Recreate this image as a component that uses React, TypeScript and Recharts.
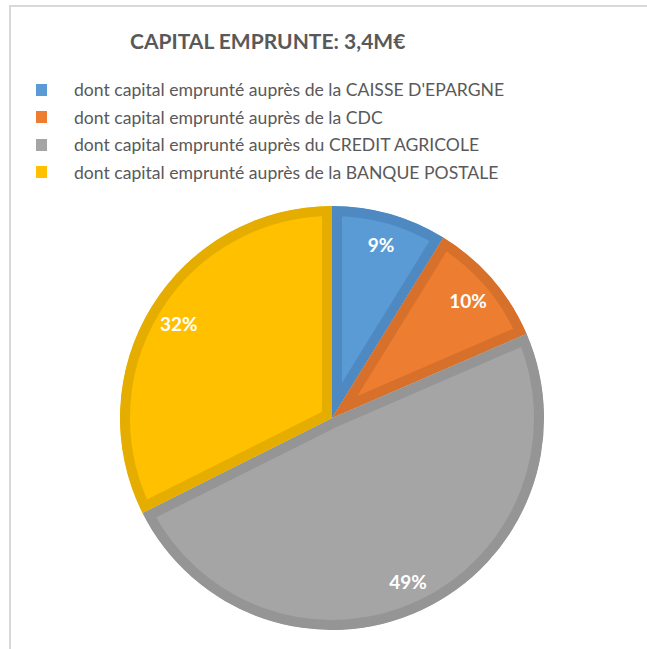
import { PieChart, Pie, Sector, Legend } from 'recharts'

const banks = [
  "dont capital emprunté auprès de la CAISSE D'EPARGNE",
  'dont capital emprunté auprès de la CDC',
  'dont capital emprunté auprès du CREDIT AGRICOLE',
  'dont capital emprunté auprès de la BANQUE POSTALE',
]
const shares = [8.8, 9.7, 49.1, 32.4]
const fills = ['#5B9BD5', '#ED7D31', '#A5A5A5', '#FFC000']
const borders = ['#4E8AC1', '#D6702B', '#959595', '#E5AD00']

const data = banks.map((name, i) => ({
  name,
  value: shares[i],
  fill: fills[i],
  border: borders[i],
}))

const RADIAN = Math.PI / 180
const FONT = 'Lato, "Open Sans", sans-serif'

function SliceShape(props: any) {
  const border = props.payload?.border ?? props.border
  const id = 'clip-' + (props.payload?.name ?? props.name ?? '').replace(/[^a-z]/gi, '')
  return (
    <g>
      <defs>
        <clipPath id={id}>
          <Sector {...props} stroke="none" />
        </clipPath>
      </defs>
      <Sector {...props} stroke={border} strokeWidth={20} clipPath={`url(#${id})`} />
    </g>
  )
}

function renderLabel({ cx, cy, midAngle, percent }: any) {
  const r = 180
  const x = cx + r * Math.cos(-midAngle * RADIAN)
  const y = cy + r * Math.sin(-midAngle * RADIAN)
  return (
    <text
      x={x}
      y={y}
      fill="#fff"
      textAnchor="middle"
      dominantBaseline="central"
      fontFamily={FONT}
      fontWeight={700}
      fontSize={19}
    >
      {Math.round(percent * 100)}%
    </text>
  )
}

function LegendList() {
  return (
    <div style={{ fontFamily: FONT, fontSize: 17.6, color: '#595959' }}>
      {data.map((d) => (
        <div key={d.name} style={{ display: 'flex', alignItems: 'center', height: 27.5 }}>
          <span
            style={{
              display: 'inline-block',
              width: 11,
              height: 12,
              background: d.fill,
              marginLeft: 36,
              marginRight: 27,
            }}
          />
          <span style={{ whiteSpace: 'nowrap' }}>{d.name}</span>
        </div>
      ))}
    </div>
  )
}

export default function App() {
  return (
    <div style={{ position: 'fixed', left: 0, top: 0, width: 647, height: 649, background: '#fff', overflow: 'hidden' }}>
      <div
        style={{
          position: 'absolute',
          left: 9,
          top: 5,
          width: 650,
          height: 670,
          border: '2px solid #D9D9D9',
        }}
      />
      <div
        style={{
          position: 'absolute',
          left: 130,
          top: 28,
          width: 272,
          textAlign: 'center',
          fontFamily: FONT,
          fontWeight: 700,
          fontSize: 21,
          color: '#595959',
          whiteSpace: 'nowrap',
        }}
      >
        CAPITAL EMPRUNTE: 3,4M€
      </div>
      <div style={{ position: 'absolute', left: 0, top: 0 }}>
        <PieChart width={647} height={649} margin={{ top: 0, right: 0, bottom: 0, left: 0 }}>
          <Legend
            content={<LegendList />}
            wrapperStyle={{ position: 'absolute', left: 0, top: 76, width: 647 }}
          />
          <Pie
            data={data}
            dataKey="value"
            nameKey="name"
            cx={332}
            cy={418}
            outerRadius={212}
            startAngle={90}
            endAngle={-270}
            shape={SliceShape}
            label={renderLabel}
            labelLine={false}
            isAnimationActive={false}
          />
        </PieChart>
      </div>
    </div>
  )
}
